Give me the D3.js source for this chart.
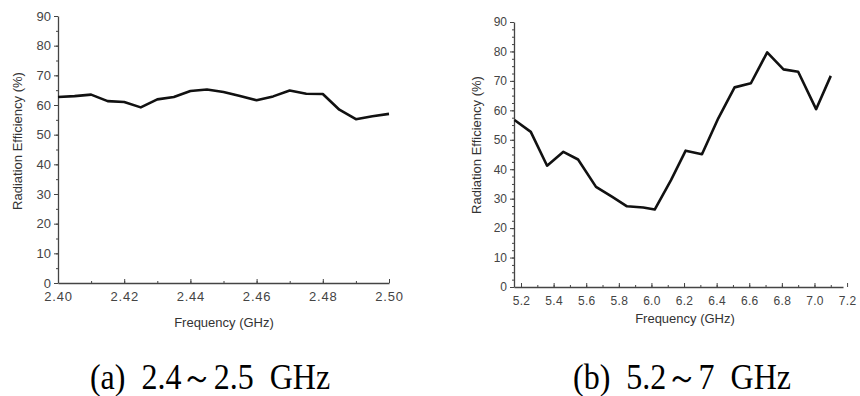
<!DOCTYPE html>
<html>
<head>
<meta charset="utf-8">
<script src="https://cdn.jsdelivr.net/npm/d3@7"></script>
<style>
  body { margin: 0; background: #fff; }
  svg text { font-family: "Liberation Sans", Arial, sans-serif; }
</style>
</head>
<body>
<svg id="chart" width="860" height="396"></svg>
<script>
// panel (a) 2.4-2.5 GHz
const freqA = [2.400, 2.405, 2.410, 2.415, 2.420, 2.425, 2.430, 2.435, 2.440, 2.445, 2.450,
               2.455, 2.460, 2.465, 2.470, 2.475, 2.480, 2.485, 2.490, 2.495, 2.500];
const effA = [62.7, 63.0, 63.5, 61.3, 61.0, 59.2, 61.9, 62.7, 64.7, 65.2, 64.4,
              63.0, 61.6, 62.9, 64.9, 63.8, 63.7, 58.4, 55.2, 56.2, 57.0];
const ticksXA = [2.40, 2.42, 2.44, 2.46, 2.48, 2.50];

// panel (b) 5.2-7 GHz
const freqB = [5.16, 5.26, 5.36, 5.46, 5.55, 5.66, 5.76, 5.85, 5.95, 6.02, 6.12,
               6.21, 6.31, 6.41, 6.51, 6.61, 6.71, 6.81, 6.90, 7.01, 7.10];
const effB = [56.7, 52.7, 41.2, 45.9, 43.3, 34.0, 30.6, 27.4, 27.0, 26.3, 36.3,
              46.3, 45.1, 57.3, 67.8, 69.2, 79.7, 73.9, 73.1, 60.4, 71.7];
const ticksXB = [5.2, 5.4, 5.6, 5.8, 6.0, 6.2, 6.4, 6.6, 6.8, 7.0, 7.2];

const ticksY = [0, 10, 20, 30, 40, 50, 60, 70, 80, 90];

const svg = d3.select('#chart');

function drawPanel(opt) {
  const x = d3.scaleLinear().domain(opt.xDomain).range(opt.xRange);
  const y = d3.scaleLinear().domain([0, 90]).range(opt.yRange);
  const g = svg.append('g');

  // y axis, minor then major
  g.append('g')
    .attr('transform', `translate(${opt.xRange[0]},0)`)
    .call(d3.axisLeft(y).tickValues(d3.range(0, 91, opt.yMinor)).tickSize(2).tickFormat(''))
    .call(a => a.select('.domain').remove());
  const ya = g.append('g')
    .attr('transform', `translate(${opt.xRange[0]},0)`)
    .call(d3.axisLeft(y).tickValues(ticksY).tickSize(4).tickSizeOuter(0).tickPadding(3));
  ya.selectAll('text').style('font-size', opt.fs + 'px').attr('fill', '#444');

  // x axis
  g.append('g')
    .attr('transform', `translate(0,${opt.yRange[0]})`)
    .call(d3.axisBottom(x).tickValues(opt.xMinor).tickSize(-2).tickFormat(''))
    .call(a => a.select('.domain').remove());
  const xa = g.append('g')
    .attr('transform', `translate(0,${opt.yRange[0]})`)
    .call(d3.axisBottom(x).tickValues(opt.xTicks).tickSize(-4).tickSizeOuter(0)
      .tickPadding(9).tickFormat(d3.format(opt.xFmt)));
  xa.selectAll('text').style('font-size', opt.fs + 'px').attr('fill', '#444')
    .style('letter-spacing', opt.ls + 'px');

  g.selectAll('.domain').attr('stroke', '#444').attr('stroke-width', 1.3);
  g.selectAll('.tick line').attr('stroke', '#444');

  // titles
  g.append('text')
    .attr('transform', `translate(${opt.yLabelX},${opt.yLabelY}) rotate(-90)`)
    .attr('text-anchor', 'middle')
    .style('font-size', '13px').attr('fill', '#333')
    .text('Radiation Efficiency (%)');
  g.append('text')
    .attr('x', opt.xLabelX).attr('y', opt.xLabelY)
    .attr('text-anchor', 'middle')
    .style('font-size', '13px').attr('fill', '#333')
    .text('Frequency (GHz)');

  // data line
  const line = d3.line().x((d, i) => x(opt.freq[i])).y(d => y(d));
  g.append('path')
    .datum(opt.eff)
    .attr('d', line)
    .attr('fill', 'none')
    .attr('stroke', '#111')
    .attr('stroke-width', 2.6)
    .attr('stroke-linejoin', 'round');

  // caption (tall serif)
  g.append('text')
    .attr('transform', `translate(${opt.capX},389) scale(1,1.1)`)
    .attr('text-anchor', 'middle')
    .style('white-space', 'pre')
    .style('font-family', '"Liberation Serif", "Times New Roman", serif')
    .style('font-size', '32px').attr('fill', '#000')
    .text(opt.caption);
}

drawPanel({
  freq: freqA, eff: effA,
  xDomain: [2.40, 2.50], xRange: [58, 389], yRange: [283, 16],
  xTicks: ticksXA, xMinor: d3.range(0, 11).map(i => 2.40 + i * 0.01), xFmt: '.2f',
  yMinor: 5, fs: 13, ls: 0.8,
  yLabelX: 22, yLabelY: 141, xLabelX: 224, xLabelY: 327,
  capX: 210, caption: '(a)  2.4～2.5  GHz'
});

drawPanel({
  freq: freqB, eff: effB,
  xDomain: [5.157, 7.175], xRange: [514, 843], yRange: [287, 22],
  xTicks: ticksXB, xMinor: d3.range(0, 20).map(i => 5.2 + i * 0.1), xFmt: '.1f',
  yMinor: 2.5, fs: 12, ls: 0.3,
  yLabelX: 481, yLabelY: 145, xLabelX: 685, xLabelY: 323,
  capX: 682, caption: '(b)  5.2～7  GHz'
});
</script>
</body>
</html>
